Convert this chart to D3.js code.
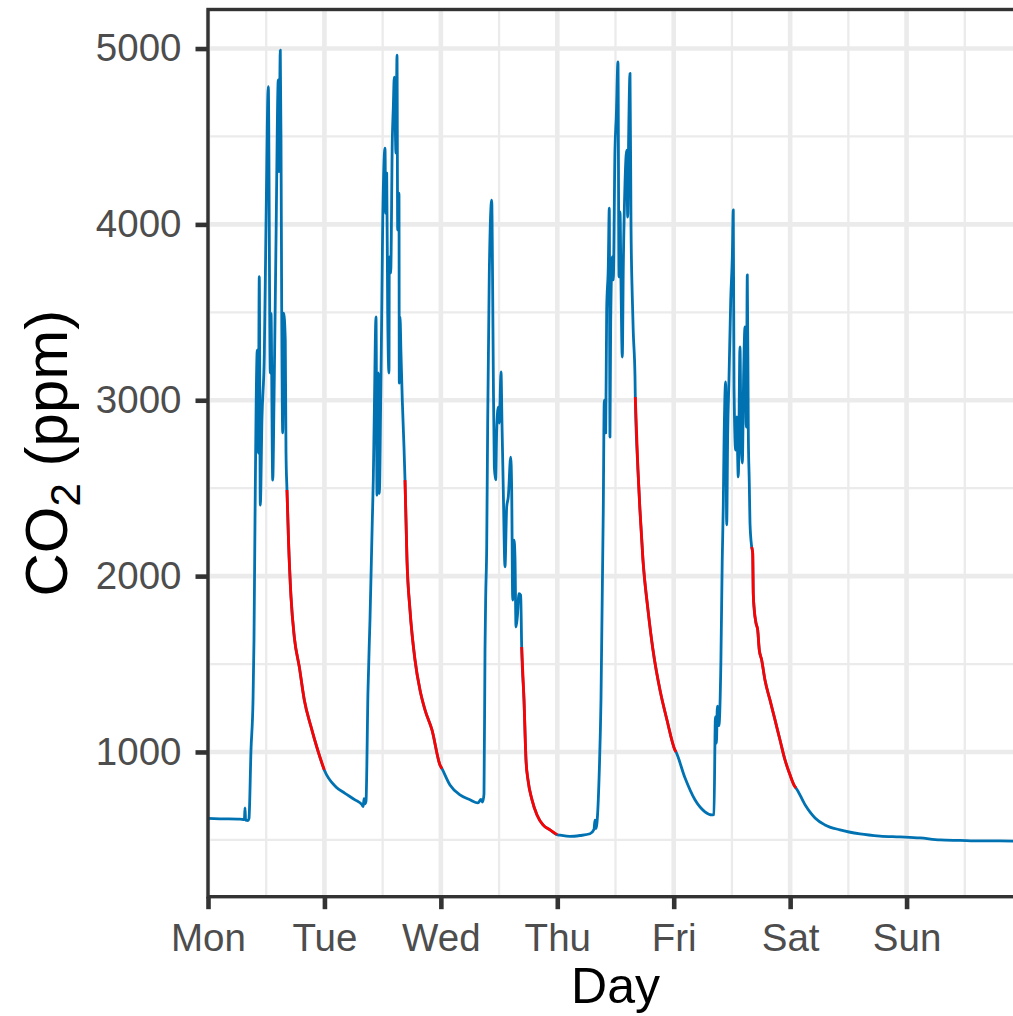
<!DOCTYPE html>
<html>
<head>
<meta charset="utf-8">
<script src="https://cdn.jsdelivr.net/npm/d3@7"></script>
<style>
  body { margin: 0; background: #fff; }
  svg { display: block; font-family: "Liberation Sans", Arial, sans-serif; }
</style>
</head>
<body>
<div id="chart"></div>
<script>
// hours since Monday 00:00
const hours = [0, 2.47, 6.6, 7.5, 7.63, 7.75, 8.25, 8.45, 8.86, 9.28, 9.48, 9.69, 10.16, 10.37, 10.57, 10.78, 11.13, 11.61, 11.96, 12.43,
  12.84, 12.99, 13.34, 13.61, 14.02, 14.49, 14.63, 14.9, 15.05, 15.19, 15.4, 15.6, 15.93, 16.08, 16.28, 16.6, 17.11, 17.79, 18.82, 19.85,
  21.23, 22.61, 23.97, 26.38, 28.24, 30.3, 31.74, 32.0, 32.16, 32.35, 32.57, 32.98, 33.39, 33.87, 34.07, 34.28, 34.63, 34.84, 35.11, 35.31,
  35.6, 35.81, 36.02, 36.49, 36.63, 36.84, 37.04, 37.31, 37.37, 37.66, 37.99, 38.2, 38.4, 38.75, 38.96, 39.1, 39.37, 39.43, 39.58, 39.78,
  40.05, 40.4, 40.61, 41.02, 41.64, 42.67, 43.7, 44.73, 46.17, 47.82, 48.23, 49.88, 51.94, 54.0, 55.65, 56.27, 56.6, 56.89, 57.1, 57.24,
  57.45, 57.65, 57.98, 58.48, 58.68, 58.81, 59.02, 59.3, 59.51, 59.84, 60.05, 60.4, 60.6, 60.87, 61.22, 61.57, 61.9, 62.4, 62.6, 62.81,
  63.08, 63.28, 63.49, 63.76, 64.11, 64.46, 64.66, 65.14, 65.55, 65.96, 66.79, 67.82, 69.06, 70.5, 71.94, 72.56, 74.62, 76.68, 78.74, 79.57,
  79.77, 79.98, 80.19, 80.6, 81.01, 81.48, 81.69, 81.98, 82.18, 82.51, 82.72, 82.86, 83.01, 83.34, 83.54, 83.89, 84.16, 84.51, 84.72, 84.93,
  85.13, 85.4, 85.61, 85.96, 86.31, 86.51, 86.72, 86.99, 87.2, 87.46, 87.67, 88.02, 88.08, 88.63, 89.04, 89.66, 90.7, 91.73, 93.17, 94.61,
  96.26, 96.47, 98.32, 100.38, 102.44, 103.88, 104.29, 104.6, 104.8, 105.0, 105.32, 105.73, 106.0, 106.21, 106.36, 106.71, 106.92, 107.13, 107.39, 107.75,
  108.08, 108.28, 108.43, 108.77, 108.98, 109.31, 109.66, 109.87, 110.14, 110.42, 110.69, 110.96, 111.17, 111.38, 111.58, 111.72, 112.07, 112.28, 112.4, 112.61,
  112.96, 113.31, 113.64, 114.13, 114.81, 115.84, 116.88, 117.91, 118.94, 119.97, 121.0, 121.21, 123.07, 125.13, 127.19, 130.28, 134.4, 138.52, 142.64, 146.76,
  150.89, 155.01, 159.13, 163.25, 168];

const co2 = [622, 620, 618, 616, 682, 612, 610, 622, 1010, 1295, 1636, 2318, 3285, 2700, 3703, 2404, 2900, 3267, 4005, 4783,
  3155, 3494, 2546, 3000, 3911, 4821, 4300, 4991, 4480, 3530, 2814, 3496, 3343, 2700, 2490, 2200, 1881, 1653, 1484, 1296,
  1144, 1011, 898, 801, 765, 728, 700, 690, 735, 705, 720, 1350, 1750, 2318, 2546, 2927, 3474, 2460, 3155, 2470,
  3001, 3496, 4025, 4433, 4064, 4291, 3496, 3155, 3815, 3724, 4480, 4668, 4838, 4405, 4963, 3969, 4178, 3098, 3474, 3267,
  3001, 2734, 2546, 2090, 1807, 1523, 1352, 1239, 1125, 926, 905, 812, 756, 728, 710, 730, 715, 760, 1580, 1880,
  2166, 2865, 3718, 4138, 3627, 3155, 2621, 2547, 2831, 2961, 2870, 3161, 2870, 2490, 2053, 2393, 2450, 2677, 2490, 1864,
  2205, 2109, 1711, 1767, 1900, 1892, 1597, 1296, 955, 841, 728, 642, 585, 557, 530, 527, 520, 525, 535, 560,
  613, 565, 600, 840, 1300, 2376, 3001, 2814, 3513, 3758, 4093, 2791, 3440, 3815, 3684, 4422, 4611, 4924, 3702, 4071,
  3667, 3246, 3758, 4235, 4422, 4042, 4518, 4859, 3985, 3588, 3382, 3132, 3018, 2603, 2376, 2092, 1807, 1580, 1352, 1182,
  1011, 1000, 853, 728, 660, 642, 645, 1200, 1050, 1260, 1150, 1523, 2092, 2393, 2734, 3104, 2291, 2814, 3115, 3570,
  3815, 4082, 3075, 2717, 2905, 2564, 3303, 2814, 2643, 3155, 3417, 2848, 3713, 2814, 2530, 2303, 2166, 2131, 1900, 1807,
  1733, 1694, 1580, 1523, 1409, 1296, 1182, 1068, 955, 870, 802, 795, 700, 625, 585, 557, 534, 522, 517, 511,
  500, 497, 494, 494, 492];

// decay periods (hours) highlighted in red
const decayStart = [16.28, 40.61, 64.66, 88.08, 112.07];
const decayEnd = [23.97, 48.23, 71.94, 96.47, 121.21];

const yBreaks = [1000, 2000, 3000, 4000, 5000];
const yMinor = [500, 1500, 2500, 3500, 4500];
const yLimits = [177, 5222];

const blue = '#0072B2';
const red = '#FF0000';

const W = 1013, H = 1016;
const pL = 208, pT = 9.5, pB = 896.7, pR = 1023;

const base = new Date(2024, 0, 1); // a Monday
const toDate = h => new Date(base.getTime() + h * 3600 * 1000);
const data = hours.map((h, i) => ({ t: toDate(h), h: h, v: co2[i] }));

const svg = d3.select('#chart')
  .append('svg')
  .attr('width', W)
  .attr('height', H);

const x = d3.scaleTime()
  .domain([base, d3.timeDay.offset(base, 7)])
  .range([pL, pR]);

const y = d3.scaleLinear()
  .domain(yLimits)
  .range([pB, pT]);

const dayTicks = d3.timeDay.range(base, d3.timeDay.offset(base, 7));
const halfTicks = dayTicks.map(d => d3.timeHour.offset(d, 12));

const grid = svg.append('g');
grid.selectAll('.ymin')
  .data(yMinor)
  .enter()
  .append('line')
  .attr('x1', pL).attr('x2', pR)
  .attr('y1', d => y(d)).attr('y2', d => y(d))
  .attr('stroke', '#EBEBEB')
  .attr('stroke-width', 2.3);
grid.selectAll('.xmin')
  .data(halfTicks)
  .enter()
  .append('line')
  .attr('x1', d => x(d)).attr('x2', d => x(d))
  .attr('y1', pT).attr('y2', pB)
  .attr('stroke', '#EBEBEB')
  .attr('stroke-width', 2.3);
grid.selectAll('.ymaj')
  .data(yBreaks)
  .enter()
  .append('line')
  .attr('x1', pL).attr('x2', pR)
  .attr('y1', d => y(d)).attr('y2', d => y(d))
  .attr('stroke', '#EBEBEB')
  .attr('stroke-width', 4.6);
grid.selectAll('.xmaj')
  .data(dayTicks)
  .enter()
  .append('line')
  .attr('x1', d => x(d)).attr('x2', d => x(d))
  .attr('y1', pT).attr('y2', pB)
  .attr('stroke', '#EBEBEB')
  .attr('stroke-width', 4.6);

const line = d3.line()
  .curve(d3.curveMonotoneX)
  .x(d => x(d.t))
  .y(d => y(d.v));

svg.append('path')
  .datum(data)
  .attr('fill', 'none')
  .attr('stroke', blue)
  .attr('stroke-width', 2.8)
  .attr('stroke-linejoin', 'round')
  .attr('d', line);

const decays = decayStart.map((s, i) => data.filter(d => d.h >= s && d.h <= decayEnd[i]));
svg.selectAll('.decay')
  .data(decays)
  .enter()
  .append('path')
  .attr('fill', 'none')
  .attr('stroke', red)
  .attr('stroke-width', 2.8)
  .attr('stroke-linejoin', 'round')
  .attr('d', line);

// panel border
svg.append('rect')
  .attr('x', pL)
  .attr('y', pT)
  .attr('width', pR - pL)
  .attr('height', pB - pT)
  .attr('fill', 'none')
  .attr('stroke', '#333333')
  .attr('stroke-width', 3.4);

const xAxis = d3.axisBottom(x)
  .tickValues(dayTicks)
  .tickFormat(d3.timeFormat('%a'))
  .tickSize(12.5)
  .tickPadding(14);
const gx = svg.append('g')
  .attr('transform', `translate(0,${pB})`)
  .call(xAxis);

const yAxis = d3.axisLeft(y)
  .tickValues(yBreaks)
  .tickFormat(d3.format('d'))
  .tickSize(12.5)
  .tickPadding(14);
const gy = svg.append('g')
  .attr('transform', `translate(${pL},0)`)
  .call(yAxis);

[gx, gy].forEach(g => {
  g.select('.domain').remove();
  g.selectAll('.tick line').attr('stroke', '#333333').attr('stroke-width', 4.6);
  g.selectAll('.tick text')
    .attr('fill', '#4D4D4D')
    .style('font-size', '38.5px')
    .style('font-family', '"Liberation Sans", Arial, sans-serif');
});

svg.append('text')
  .attr('x', (pL + pR) / 2)
  .attr('y', 1003)
  .attr('text-anchor', 'middle')
  .style('font-size', '50px')
  .attr('fill', '#000')
  .text('Day');

const yt = svg.append('text')
  .attr('transform', `translate(67,${(pT + pB) / 2}) rotate(-90)`)
  .attr('text-anchor', 'middle')
  .style('font-size', '60px')
  .attr('fill', '#000');
yt.append('tspan').text('CO');
yt.append('tspan').attr('dy', 13).style('font-size', '42px').text('2');
yt.append('tspan').attr('dy', -13).text(' (ppm)');
</script>
</body>
</html>
